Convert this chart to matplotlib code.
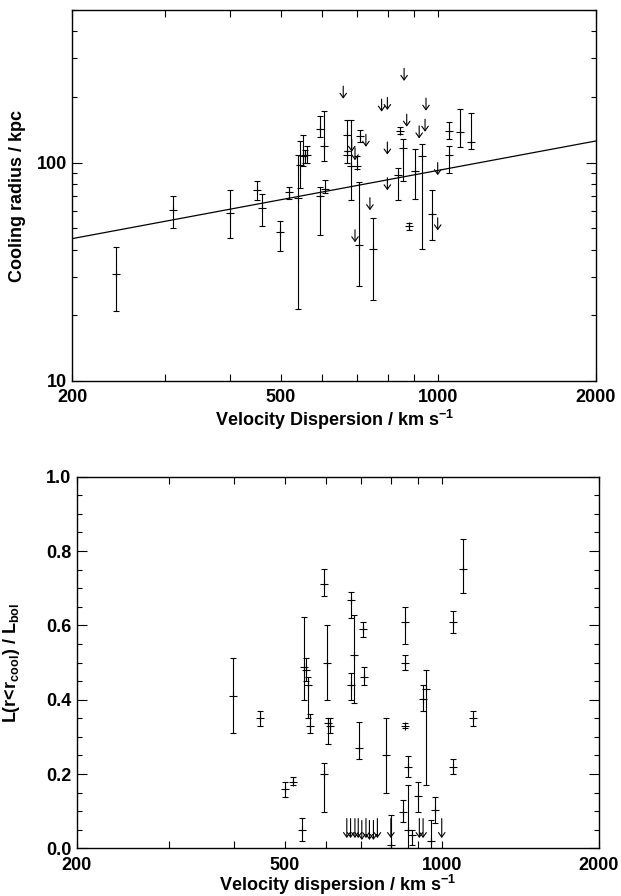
import numpy as np
import matplotlib
matplotlib.use("Agg")
import matplotlib.pyplot as plt
from matplotlib.ticker import MultipleLocator, NullLocator, NullFormatter

plt.rcParams["font.family"] = ["Liberation Sans", "DejaVu Sans"]
plt.rcParams["font.weight"] = "bold"
plt.rcParams["axes.labelweight"] = "bold"
plt.rcParams["font.size"] = 13
plt.rcParams["mathtext.fontset"] = "custom"
plt.rcParams["mathtext.bf"] = "Liberation Sans:bold"
plt.rcParams["mathtext.rm"] = "Liberation Sans:bold"
plt.rcParams["mathtext.default"] = "bf"

# --- top panel: cooling radius vs velocity dispersion ---
rc_sigma = [242, 311, 400, 450, 460, 499, 519, 540, 544, 551, 556, 560, 594, 605,
            594, 607, 669, 669, 680, 708, 698, 705, 749, 838, 845, 857, 902, 880,
            929, 971, 1049, 1049, 1101, 1153]
rc_val = [31.0, 60.4, 58.9, 74.8, 61.7, 48.2, 73.6, 69.1, 97.2, 107, 108, 108, 143.3, 119.2,
          70.2, 76.0, 133.5, 108, 96.5, 132.5, 96.5, 41.8, 40.3, 87.4, 139.7, 117.2, 91.5, 51.1,
          107, 58.3, 139.7, 108.4, 138.2, 124.9]
rc_hi = [41.1, 70.2, 74.8, 82.3, 71.5, 53.9, 77.6, 108, 125.7, 133.5, 113.9, 119, 162.7, 171.5,
         77.6, 83.2, 156.9, 113.1, 156.9, 141.2, 107, 81.4, 55.9, 94.8, 145.3, 128.9, 115.1, 53.0,
         121.4, 74.8, 153.6, 119.2, 175.7, 168.5]
rc_lo = [21.0, 50.1, 45.2, 67.3, 51.1, 39.3, 68.5, 21.4, 76.2, 96.5, 100, 100, 130.7, 101.4,
         46.5, 72.8, 113.1, 100, 67.3, 124.3, 93.8, 27.3, 23.5, 67.3, 134.9, 82.3, 68.5, 49.4,
         40.3, 44.4, 128.0, 90.0, 118.4, 115.1]

# upper limits (top panel)
rc_lim_sigma = [658, 683, 693, 693, 727, 740, 779, 799, 799, 799, 860, 870, 919, 943, 947, 997, 997]
rc_lim_val = [224, 128, 117, 49.3, 134.9, 69.1, 195.4, 198.9, 124.3, 85.3, 270.3, 166.7, 147.3,
              158.1, 197.4, 55.9, 100]

# fitted relation
fit_sigma = [200, 2000]
fit_rc = [44.9, 125.7]

# --- bottom panel: luminosity fraction within cooling radius ---
lf_sigma = [399, 449, 500, 520, 539, 545, 550, 555, 560, 596, 596, 602, 606, 611, 669, 669,
            680, 706, 711, 695, 782, 799, 842, 852, 852, 852, 861, 861, 876, 899, 922, 933,
            971, 1052, 1052, 1100, 1149, 952]
lf_val = [0.41, 0.35, 0.159, 0.179, 0.049, 0.489, 0.48, 0.44, 0.329, 0.71, 0.20, 0.50, 0.336,
          0.329, 0.668, 0.44, 0.52, 0.589, 0.462, 0.269, 0.251, 0.01, 0.098, 0.61, 0.499, 0.329,
          0.22, 0.049, 0.036, 0.141, 0.401, 0.43, 0.103, 0.61, 0.22, 0.751, 0.35, 0.02]
lf_hi = [0.511, 0.37, 0.179, 0.191, 0.081, 0.622, 0.511, 0.46, 0.361, 0.751, 0.23, 0.601, 0.35,
         0.35, 0.691, 0.471, 0.628, 0.61, 0.489, 0.339, 0.35, 0.09, 0.13, 0.65, 0.52, 0.336,
         0.249, 0.17, 0.049, 0.179, 0.44, 0.48, 0.139, 0.639, 0.24, 0.832, 0.37, 0.075]
lf_lo = [0.309, 0.329, 0.139, 0.170, 0.020, 0.399, 0.451, 0.35, 0.309, 0.679, 0.098, 0.399, 0.281,
         0.309, 0.619, 0.399, 0.39, 0.569, 0.44, 0.24, 0.15, 0.0, 0.072, 0.55, 0.48, 0.323,
         0.191, 0.0, 0.009, 0.098, 0.37, 0.17, 0.069, 0.579, 0.2, 0.688, 0.329, 0.0]

lf_lim_sigma = [658, 669, 682, 692, 703, 716, 727, 740, 753, 799, 906, 921, 1000]
lf_lim_val = [0.08, 0.08, 0.08, 0.08, 0.075, 0.08, 0.075, 0.075, 0.08, 0.08, 0.08, 0.08, 0.08]


def draw_points(ax, x, y, hi, lo):
    x = np.array(x)
    y = np.array(y)
    err = [y - np.array(lo), np.array(hi) - y]
    ax.errorbar(x, y, yerr=err, fmt="+", color="k", ms=6, mew=0.8,
                elinewidth=0.8, capsize=2.2, capthick=0.8)


def draw_limits(ax, x, y, length):
    for xi, yi in zip(x, y):
        ax.annotate("", xy=(xi, yi), xytext=(0, -length), textcoords="offset points",
                    arrowprops=dict(arrowstyle="<-,head_length=0.25,head_width=0.18",
                                    lw=0.8, color="k", shrinkA=0, shrinkB=0))


def style_x(ax):
    ax.set_xscale("log")
    ax.set_xlim(200, 2000)
    xt = [200, 300, 400, 500, 600, 700, 800, 900, 1000, 2000]
    xl = ["200", "", "", "500", "", "", "", "", "1000", "2000"]
    ax.set_xticks(xt, labels=xl)
    ax.xaxis.set_minor_locator(NullLocator())
    ax.tick_params(axis="x", which="major", direction="in", top=True, length=5, width=0.8, pad=6)


fig = plt.figure(figsize=(6.21, 8.96), dpi=100)

ax1 = fig.add_axes([0.1167, 0.5748, 0.843, 0.414])
draw_points(ax1, rc_sigma, rc_val, rc_hi, rc_lo)
draw_limits(ax1, rc_lim_sigma, rc_lim_val, 9)
ax1.plot(fit_sigma, fit_rc, color="k", lw=0.9)
style_x(ax1)
ax1.set_yscale("log")
ax1.set_ylim(10, 500)
ax1.set_yticks([10, 100], labels=["10", "100"])
ax1.yaxis.set_minor_formatter(NullFormatter())
ax1.tick_params(axis="y", which="major", direction="in", right=True, length=7, width=0.8, pad=4)
ax1.tick_params(axis="y", which="minor", direction="in", right=True, length=3.6, width=0.8)
ax1.set_xlabel(r"Velocity Dispersion / km s$^{-1}$")
ax1.set_ylabel("Cooling radius / kpc")
ax1.xaxis.set_label_coords(0.5, -0.072)
ax1.yaxis.set_label_coords(-0.088, 0.5)

ax2 = fig.add_axes([0.1235, 0.0532, 0.841, 0.4148])
draw_points(ax2, lf_sigma, lf_val, lf_hi, lf_lo)
draw_limits(ax2, lf_lim_sigma, lf_lim_val, 14)
style_x(ax2)
ax2.set_ylim(0, 1)
ax2.set_yticks([0, 0.2, 0.4, 0.6, 0.8, 1.0], labels=["0.0", "0.2", "0.4", "0.6", "0.8", "1.0"])
ax2.yaxis.set_minor_locator(MultipleLocator(0.05))
ax2.tick_params(axis="y", which="major", direction="in", right=True, length=7, width=0.8, pad=4)
ax2.tick_params(axis="y", which="minor", direction="in", right=True, length=3.6, width=0.8)
ax2.set_xlabel(r"Velocity dispersion / km s$^{-1}$")
ax2.set_ylabel(r"L(r<r$_{cool}$) / L$_{bol}$")
ax2.xaxis.set_label_coords(0.5, -0.066)
ax2.yaxis.set_label_coords(-0.105, 0.5)

for ax in (ax1, ax2):
    for s in ax.spines.values():
        s.set_linewidth(1.0)

fig.savefig("out.png", dpi=100)
